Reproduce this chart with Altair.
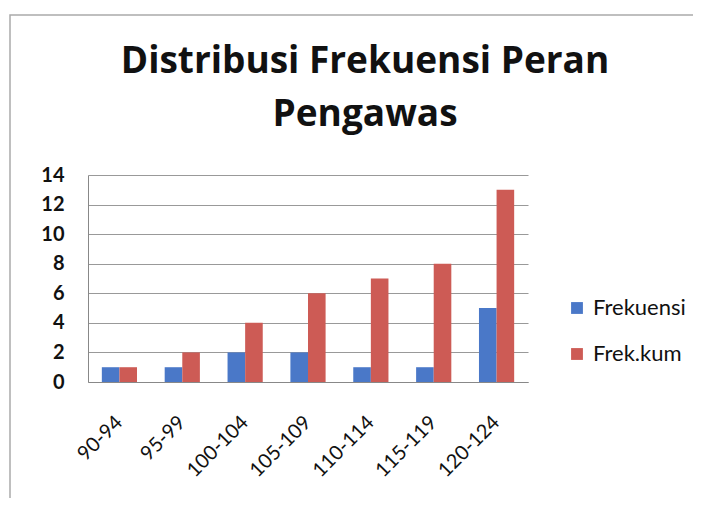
import altair as alt
import pandas as pd

categories = ["90-94", "95-99", "100-104", "105-109", "110-114", "115-119", "120-124"]
frekuensi = [1, 1, 2, 2, 1, 1, 5]
frek_kum = [1, 2, 4, 6, 7, 8, 13]
series_names = ["Frekuensi", "Frek.kum"]
colors = ["#4a78c8", "#cd5b55"]

rows = []
for c, f, k in zip(categories, frekuensi, frek_kum):
    rows.append({"kelas": c, "seri": series_names[0], "nilai": f})
    rows.append({"kelas": c, "seri": series_names[1], "nilai": k})
df = pd.DataFrame(rows)

FONT = "Lato"
TFONT = "Open Sans"

bars = alt.Chart(df).mark_bar().encode(
    x=alt.X("kelas:N", sort=categories,
            scale=alt.Scale(paddingInner=0.44, paddingOuter=0.22),
            axis=alt.Axis(title=None, labelAngle=-45, labelAlign="right",
                          labelBaseline="middle", labelPadding=37, ticks=False,
                          labelFontSize=20, labelFont=FONT, labelColor="#111",
                          domainColor="#888", grid=False)),
    xOffset=alt.XOffset("seri:N", sort=series_names),
    y=alt.Y("nilai:Q", scale=alt.Scale(domain=[0, 14]),
            axis=alt.Axis(title=None, values=list(range(0, 15, 2)), ticks=False,
                          labelFontSize=20, labelFont=FONT, labelFontWeight="bold",
                          labelColor="#111", labelPadding=24, domainColor="#888",
                          gridColor="#999", gridWidth=1)),
    color=alt.Color("seri:N", sort=series_names,
                    scale=alt.Scale(domain=series_names, range=colors),
                    legend=alt.Legend(title=None, orient="none", legendX=478, legendY=122,
                                      symbolType="square", symbolSize=140, symbolStrokeWidth=0,
                                      labelFontSize=22, labelFont=FONT, labelColor="#111",
                                      rowPadding=24, labelOffset=5)),
)

frame = alt.Chart(pd.DataFrame({"a": [0]})).mark_rect(
    fill=None, stroke="#aaa", strokeWidth=1.5
).encode(x=alt.value(-78), x2=alt.value(620), y=alt.value(-160), y2=alt.value(340))

chart = alt.layer(frame, bars).properties(
    width=440, height=207,
    padding={"left": 80, "top": 167, "right": 165, "bottom": 116},
    autosize=alt.AutoSizeParams(type="none"),
    title=alt.TitleParams(
        text=["Distribusi Frekuensi Peran", "Pengawas"],
        font=TFONT, fontSize=37, fontWeight="bold", color="#111",
        anchor="middle", dx=57, offset=-120, lineHeight=53,
    ),
).configure_view(stroke=None)

chart.save("out.html", embed_options={"renderer": "svg", "actions": False})
